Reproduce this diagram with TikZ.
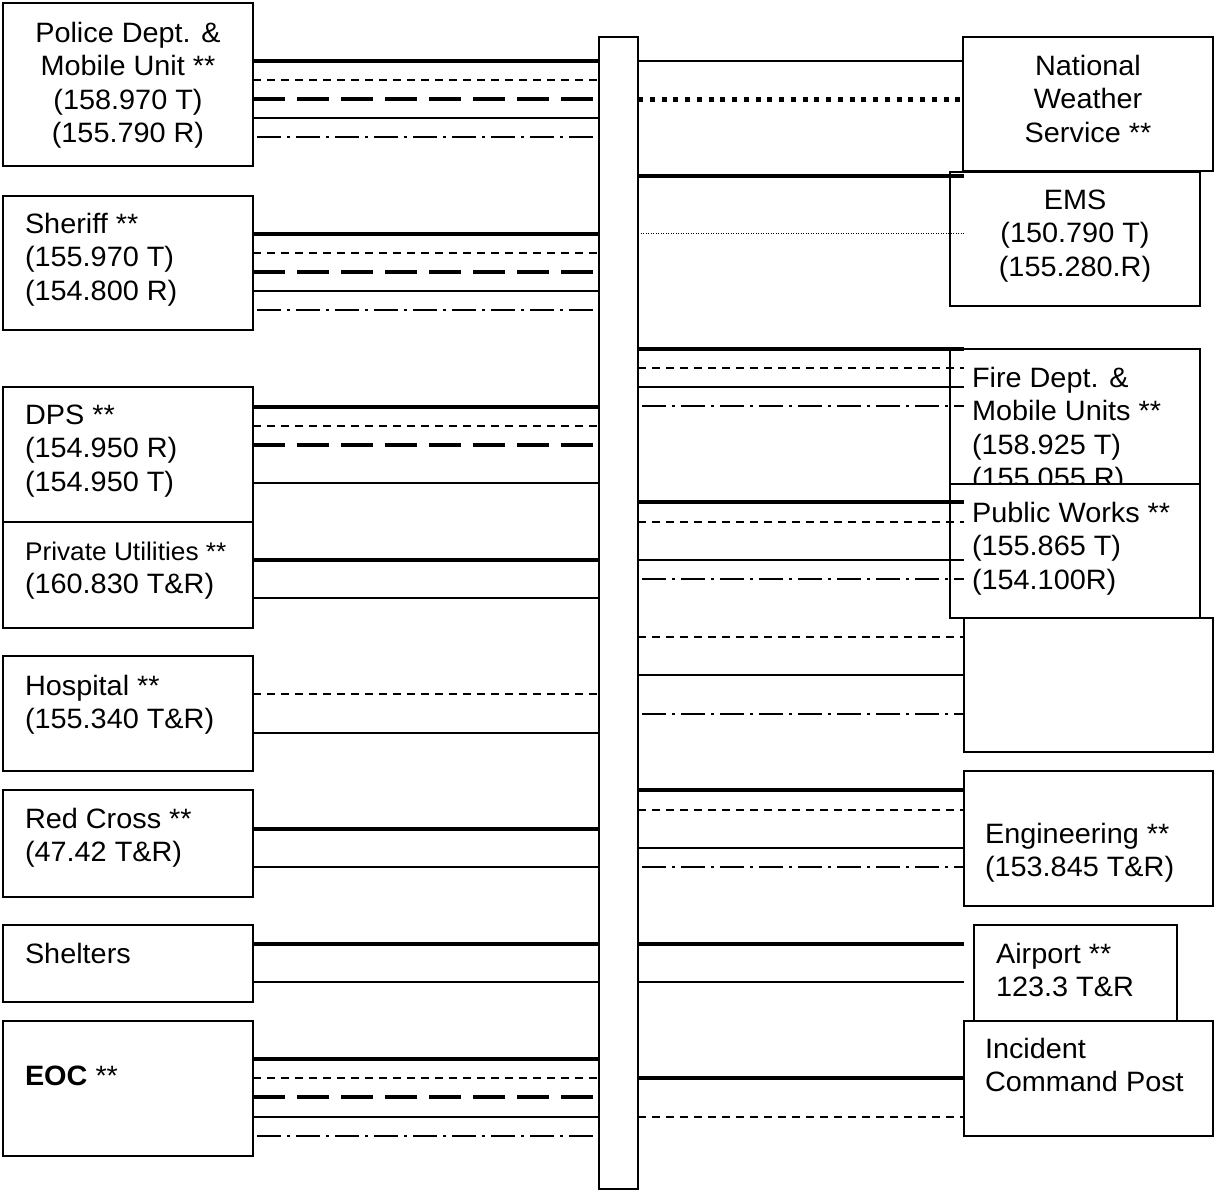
\documentclass[tikz,border=0pt]{standalone}
\usepackage{fontspec}
\setmainfont{Liberation Sans}
\usepackage{graphicx}
\newcommand\myll[1]{\hbox{\scalebox{1.03}[1]{#1}}}
\newcommand\mylc[1]{\hbox to 0pt{\hss\scalebox{1.03}[1]{#1}\hss}}
\newcommand\lnk[4]{\draw[#1] (#2 |- 0,#4) -- (#3 |- 0,#4);}
\begin{document}
\begin{tikzpicture}[x=1pt,y=-1pt,
  box/.style={draw, line width=1.3pt, fill=white, inner sep=0pt, outer sep=0pt, anchor=north west},
  txt/.style={inner sep=0pt, outer sep=0pt, font=\fontsize{28}{33.5}\selectfont},
  thickline/.style={line width=3.2pt},
  thinline/.style={line width=1.2pt},
  dshline/.style={line width=1.2pt, dash pattern=on 8pt off 6pt},
  tdshline/.style={line width=3.2pt, dash pattern=on 32pt off 12pt},
  ddline/.style={line width=1.8pt, dash pattern=on 24pt off 6pt on 3pt off 6pt, dash phase=35pt},
  ndotline/.style={line width=5pt, dash pattern=on 5pt off 6.75pt},
  fdotline/.style={line width=1pt, dash pattern=on 1pt off 1.5pt}]
\useasboundingbox (0,0) rectangle (1214,1191);

% left boxes
\node[box, minimum width=250pt, minimum height=163pt] (police) at (3,3) {};
\node[txt, anchor=base] (policeT) at (128,42) {\vtop{\mylc{Police Dept. \&}\mylc{Mobile Unit **}\mylc{(158.970 T)}\mylc{(155.790 R)}}};
\node[box, minimum width=250pt, minimum height=134pt] (sheriff) at (3,196) {};
\node[txt, anchor=base west] (sheriffT) at (25,233) {\vtop{\myll{Sheriff **}\myll{(155.970 T)}\myll{(154.800 R)}}};
\node[box, minimum width=250pt, minimum height=135pt] (dps) at (3,387) {};
\node[txt, anchor=base west] (dpsT) at (25,424) {\vtop{\myll{DPS **}\myll{(154.950 R)}\myll{(154.950 T)}}};
\node[box, minimum width=250pt, minimum height=106pt] (pu) at (3,522) {};
\node[txt, anchor=base west] (puT) at (25,560) {\vtop{\myll{\fontsize{25.5}{33.5}\selectfont Private Utilities **}\myll{(160.830 T\&R)}}};
\node[box, minimum width=250pt, minimum height=115pt] (hosp) at (3,656) {};
\node[txt, anchor=base west] (hospT) at (25,695) {\vtop{\myll{Hospital **}\myll{(155.340 T\&R)}}};
\node[box, minimum width=250pt, minimum height=107pt] (rc) at (3,790) {};
\node[txt, anchor=base west] (rcT) at (25,828) {\vtop{\myll{Red Cross **}\myll{(47.42 T\&R)}}};
\node[box, minimum width=250pt, minimum height=77pt] (shel) at (3,925) {};
\node[txt, anchor=base west] (shelT) at (25,963) {\myll{Shelters}};
\node[box, minimum width=250pt, minimum height=135pt] (eoc) at (3,1021) {};
\node[txt, anchor=base west] (eocT) at (25,1085) {\myll{\textbf{EOC} **}};

% right boxes
\node[box, minimum width=250pt, minimum height=134pt] (nws) at (963,37) {};
\node[txt, anchor=base] (nwsT) at (1088,75) {\vtop{\mylc{National}\mylc{Weather}\mylc{Service **}}};
\node[box, minimum width=250pt, minimum height=134pt] (ems) at (950,172) {};
\node[txt, anchor=base] (emsT) at (1075,209) {\vtop{\mylc{EMS}\mylc{(150.790 T)}\mylc{(155.280.R)}}};
\node[box, minimum width=250pt, minimum height=135pt] (fire) at (950,349) {};
\node[txt, anchor=base west] (fireT) at (972,387) {\vtop{\myll{Fire Dept. \&}\myll{Mobile Units **}\myll{(158.925 T)}\myll{(155.055 R)}}};
\node[box, minimum width=250pt, minimum height=134pt] (pw) at (950,484) {};
\node[txt, anchor=base west] (pwT) at (972,522) {\vtop{\myll{Public Works **}\myll{(155.865 T)}\myll{(154.100R)}}};
\node[box, minimum width=249pt, minimum height=134pt] (empty) at (964,618) {};
\node[box, minimum width=249pt, minimum height=135pt] (eng) at (964,771) {};
\node[txt, anchor=base west] (engT) at (985,843) {\vtop{\myll{Engineering **}\myll{(153.845 T\&R)}}};
\node[box, minimum width=203pt, minimum height=110pt] (airp) at (974,925) {};
\node[txt, anchor=base west] (airpT) at (996,963) {\vtop{\myll{Airport **}\myll{123.3 T\&R}}};
\node[box, minimum width=249pt, minimum height=115pt] (icp) at (964,1021) {};
\node[txt, anchor=base west] (icpT) at (985,1058) {\vtop{\myll{Incident}\myll{Command Post}}};

% bus
\node[box, minimum width=39pt, minimum height=1152pt] (bus) at (599,37) {};
\coordinate (rx) at (964,0);

% left connectors
\lnk{thickline}{police.east}{bus.west}{61}
\lnk{dshline}{police.east}{bus.west}{80}
\lnk{tdshline}{police.east}{bus.west}{99}
\lnk{thinline}{police.east}{bus.west}{118}
\lnk{ddline}{police.east}{bus.west}{137}
\lnk{thickline}{sheriff.east}{bus.west}{234}
\lnk{dshline}{sheriff.east}{bus.west}{253}
\lnk{tdshline}{sheriff.east}{bus.west}{272}
\lnk{thinline}{sheriff.east}{bus.west}{291}
\lnk{ddline}{sheriff.east}{bus.west}{310}
\lnk{thickline}{dps.east}{bus.west}{407}
\lnk{dshline}{dps.east}{bus.west}{426}
\lnk{tdshline}{dps.east}{bus.west}{445}
\lnk{thinline}{dps.east}{bus.west}{483}
\lnk{thickline}{pu.east}{bus.west}{560}
\lnk{thinline}{pu.east}{bus.west}{598}
\lnk{dshline}{hosp.east}{bus.west}{694}
\lnk{thinline}{hosp.east}{bus.west}{733}
\lnk{thickline}{rc.east}{bus.west}{829}
\lnk{thinline}{rc.east}{bus.west}{867}
\lnk{thickline}{shel.east}{bus.west}{944}
\lnk{thinline}{shel.east}{bus.west}{982}
\lnk{thickline}{eoc.east}{bus.west}{1059}
\lnk{dshline}{eoc.east}{bus.west}{1078}
\lnk{tdshline}{eoc.east}{bus.west}{1097}
\lnk{thinline}{eoc.east}{bus.west}{1117}
\lnk{ddline}{eoc.east}{bus.west}{1136}

% right connectors
\lnk{thinline}{bus.east}{nws.west}{61}
\lnk{ndotline}{bus.east}{nws.west}{99}
\lnk{thickline}{bus.east}{rx}{176}
\lnk{fdotline}{bus.east}{rx}{233}
\lnk{thickline}{bus.east}{rx}{349}
\lnk{dshline}{bus.east}{rx}{368}
\lnk{thinline}{bus.east}{rx}{387}
\lnk{ddline}{bus.east}{rx}{406}
\lnk{thickline}{bus.east}{rx}{502}
\lnk{dshline}{bus.east}{rx}{522}
\lnk{thinline}{bus.east}{rx}{560}
\lnk{ddline}{bus.east}{rx}{579}
\lnk{dshline}{bus.east}{empty.west}{637}
\lnk{thinline}{bus.east}{empty.west}{675}
\lnk{ddline}{bus.east}{empty.west}{714}
\lnk{thickline}{bus.east}{eng.west}{790}
\lnk{dshline}{bus.east}{eng.west}{810}
\lnk{thinline}{bus.east}{eng.west}{848}
\lnk{ddline}{bus.east}{eng.west}{867}
\lnk{thickline}{bus.east}{rx}{944}
\lnk{thinline}{bus.east}{rx}{982}
\lnk{thickline}{bus.east}{icp.west}{1078}
\lnk{dshline}{bus.east}{icp.west}{1117}
\end{tikzpicture}
\end{document}
